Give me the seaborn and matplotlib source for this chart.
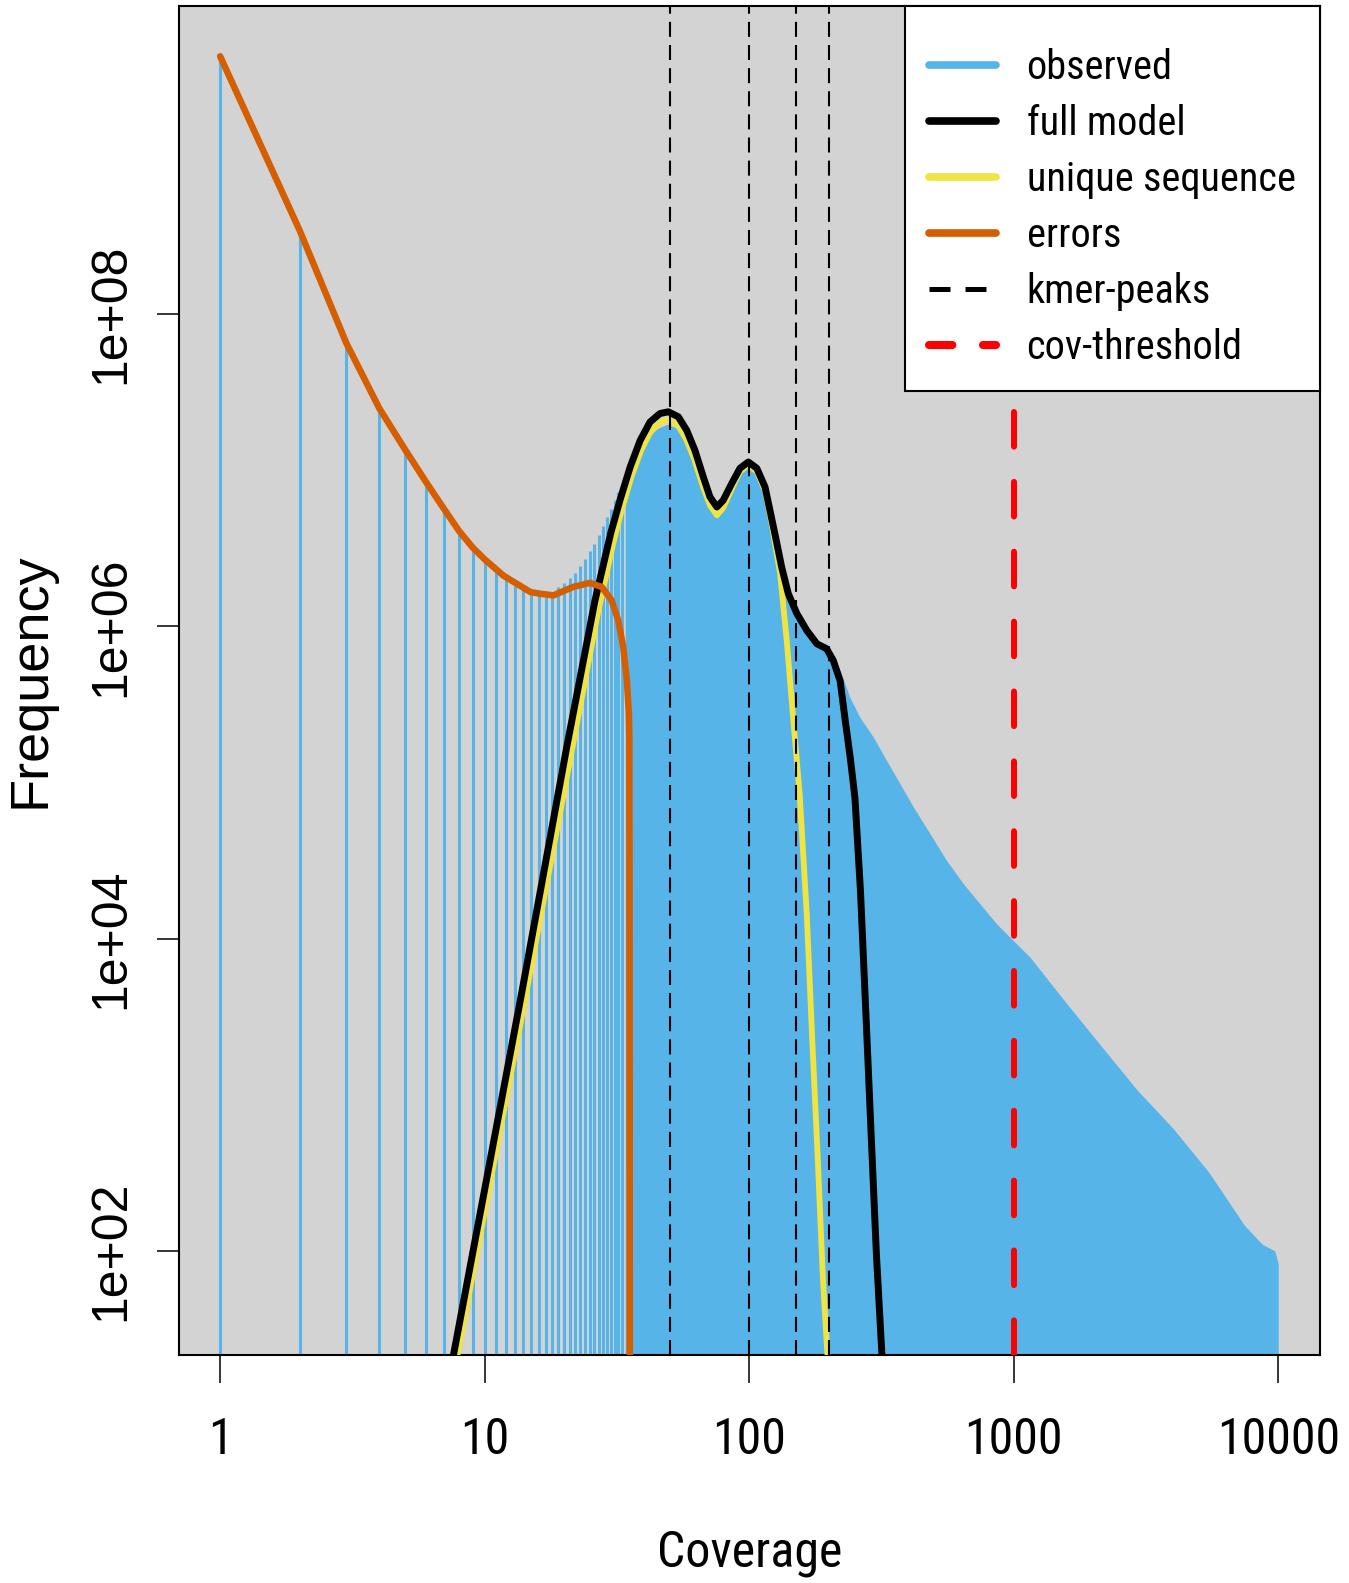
import matplotlib
matplotlib.use("Agg")
import matplotlib.pyplot as plt
from matplotlib import font_manager
from matplotlib.lines import Line2D
from matplotlib.ticker import FixedLocator, NullLocator
import seaborn as sns

# observed k-mer histogram, single bars at low coverage (1..33)
obs_cov = list(range(1, 34))
obs_freq = [4.49e9, 3.43e8, 6.53e7, 2.49e7, 1.36e7, 8.43e6, 5.70e6, 4.09e6, 3.21e6, 2.69e6,
            2.34e6, 2.04e6, 1.86e6, 1.74e6, 1.64e6, 1.62e6, 1.60e6, 1.66e6, 1.78e6, 1.90e6,
            2.04e6, 2.20e6, 2.43e6, 2.70e6, 3.02e6, 3.39e6, 3.85e6, 4.38e6, 5.01e6, 5.68e6,
            6.46e6, 7.24e6, 8.13e6]
# dense part of the histogram (bars merge), read as the outline of the bars
obs_tail_cov = [34, 36, 38, 41, 45, 49, 54, 58, 62, 67, 71, 75.5, 80, 86, 92, 99, 107, 115,
                125.6, 132.7, 140.6, 151, 165, 180, 196, 208, 221, 240, 262, 295, 331, 372,
                418, 483, 558, 646, 746, 863, 998, 1153, 1574, 2148, 2931, 4000, 5458, 7447,
                8710, 9705, 10000]
obs_tail_freq = [9.1e6, 1.1e7, 1.3e7, 1.6e7, 1.85e7, 1.97e7, 1.85e7, 1.5e7, 1.12e7, 7.6e6,
                 5.75e6, 4.95e6, 5.5e6, 7.3e6, 9.4e6, 1.05e7, 9.6e6, 7.5e6, 3.9e6, 2.45e6,
                 1.65e6, 1.25e6, 9.8e5, 8.1e5, 7.4e5, 6.46e5, 5.22e5, 3.52e5, 2.62e5, 1.95e5,
                 1.38e5, 9.8e4, 6.95e4, 4.69e4, 3.16e4, 2.24e4, 1.67e4, 1.24e4, 9.7e3, 7.6e3,
                 3.9e3, 2.04e3, 1.07e3, 6.1e2, 3.2e2, 1.46e2, 1.10e2, 1.0e2, 8.3e1]

# model curves
full_cov = [6.98, 7.62, 13.8, 20.4, 26.1, 30.0, 32.5, 35.5, 38.7, 42.2, 46.0, 49.5,
            54.0, 58.1, 62.4, 67.1, 71.1, 75.5, 79.8, 85.9, 92.3, 99.3, 106.9, 114.8, 125.6,
            132.7, 140.6, 151.4, 165.2, 180.3, 196.3, 208.0, 220.8, 230.7, 241.5, 251.2,
            263.6, 276.1, 289.1, 302.7, 317.7, 331]
full_freq = [1.0e1, 2.14e1, 4.47e3, 1.66e5, 1.45e6, 3.98e6, 6.46e6, 1.05e7, 1.55e7,
             2.04e7, 2.31e7, 2.37e7, 2.20e7, 1.80e7, 1.34e7, 9.06e6, 6.75e6, 5.82e6, 6.43e6,
             8.22e6, 1.03e7, 1.13e7, 1.03e7, 7.82e6, 3.80e6, 2.40e6, 1.62e6, 1.21e6, 9.42e5,
             7.74e5, 7.19e5, 6.05e5, 4.47e5, 2.51e5, 1.41e5, 7.94e4, 2.0e4, 3.39e3, 5.62e2,
             9.55e1, 2.14e1, 5.0]
uniq_cov = [7.24, 7.89, 14.1, 20.9, 26.6, 30.5, 32.9, 35.9, 39.1, 42.5, 46.2, 49.5, 53.7,
            57.8, 62.1, 66.8, 71.1, 75.5, 79.8, 85.9, 92.3, 99.3, 106.9, 114.8, 121.6, 130.9,
            138.7, 146.9, 155.2, 165.2, 173.0, 181.6, 190.1, 197.7, 204]
uniq_freq = [1.0e1, 2.14e1, 3.8e3, 1.32e5, 1.15e6, 3.31e6, 5.5e6, 9.1e6, 1.35e7, 1.78e7,
             2.04e7, 2.11e7, 1.95e7, 1.58e7, 1.17e7, 7.9e6, 5.96e6, 5.15e6, 5.75e6, 7.6e6,
             9.8e6, 1.08e7, 9.8e6, 7.4e6, 4.57e6, 2.19e6, 8.13e5, 2.51e5, 8.5e4, 1.41e4,
             2.34e3, 3.98e2, 6.6e1, 2.14e1, 7.9]
err_cov = [1, 2, 3, 4, 5, 6, 7, 8, 9, 10, 11.8, 14.9, 16.2, 18.2, 21.6, 25.0, 27.7, 30.2,
           32.0, 33.4, 34.5, 35.1, 35.25, 35.35, 35.4]
err_freq = [4.49e9, 3.43e8, 6.53e7, 2.49e7, 1.36e7, 8.43e6, 5.70e6, 4.09e6, 3.21e6, 2.69e6,
            2.11e6, 1.66e6, 1.62e6, 1.58e6, 1.79e6, 1.90e6, 1.79e6, 1.47e6, 1.09e6, 7.4e5,
            4.5e5, 2.75e5, 1.86e5, 1.0e3, 1.0e1]

kmer_peaks = [50, 100, 150, 200]
cov_threshold = 1000

x_ticks = [1, 10, 100, 1000, 10000]
x_labels = ['1', '10', '100', '1000', '10000']
y_ticks = [1e2, 1e4, 1e6, 1e8]
y_labels = ['1e+02', '1e+04', '1e+06', '1e+08']
legend_labels = ['observed', 'full model', 'unique sequence', 'errors', 'kmer-peaks', 'cov-threshold']

blue = '#56B4E9'
yellow = '#F0E442'
orange = '#D55E00'


def pick_font(candidates):
    have = {f.name for f in font_manager.fontManager.ttflist}
    for c in candidates:
        if c in have:
            return c
    return 'DejaVu Sans'


narrow = pick_font(['Liberation Sans Narrow', 'Arial Narrow', 'Roboto Condensed',
                    'Archivo Narrow', 'PT Sans Narrow', 'Sofia Sans Semi Condensed'])
regular = pick_font(['Liberation Sans', 'Arimo', 'Roboto'])

sns.set_theme(style='ticks')
plt.rcParams['font.family'] = [narrow, 'DejaVu Sans']

fig = plt.figure(figsize=(13.49, 15.83), dpi=100)
ax = fig.add_axes([0.1325, 0.1440, 0.8458, 0.8522])
ax.set_facecolor('#D3D3D3')
ax.set_xscale('log')
ax.set_yscale('log')
ax.set_xlim(0.6976, 14355)
ax.set_ylim(21.5, 9.42e9)

# observed histogram
ax.vlines(obs_cov, 1, obs_freq, color=blue, lw=2.2, zorder=2)
ax.fill_between(obs_tail_cov, 1, obs_tail_freq, color=blue, lw=0, zorder=2)

# models
sns.lineplot(x=uniq_cov, y=uniq_freq, ax=ax, color=yellow, lw=4.2, sort=False,
             estimator=None, zorder=3, solid_capstyle='round', solid_joinstyle='round')
sns.lineplot(x=full_cov, y=full_freq, ax=ax, color='black', lw=5.0, sort=False,
             estimator=None, zorder=4, solid_capstyle='round', solid_joinstyle='round')
sns.lineplot(x=err_cov, y=err_freq, ax=ax, color=orange, lw=4.7, sort=False,
             estimator=None, zorder=5, solid_capstyle='round', solid_joinstyle='round')

for p in kmer_peaks:
    ax.axvline(p, color='black', lw=1.5, ls=(0, (7.2, 3.9)), zorder=6)
ax.axvline(cov_threshold, color='red', lw=4.3, ls=(0, (5.8, 5.9)),
           dash_capstyle='round', zorder=6)

ax.xaxis.set_major_locator(FixedLocator(x_ticks))
ax.xaxis.set_minor_locator(NullLocator())
ax.set_xticklabels(x_labels, fontsize=36)
ax.yaxis.set_major_locator(FixedLocator(y_ticks))
ax.yaxis.set_minor_locator(NullLocator())
ax.set_yticklabels(y_labels, fontsize=36, rotation=90, va='center', family=regular)
ax.tick_params(axis='x', length=20, width=1.1, pad=24, colors='black')
ax.tick_params(axis='y', length=16, width=1.1, pad=16, colors='black')
for s in ax.spines.values():
    s.set_color('black')
    s.set_linewidth(1.5)

ax.set_xlabel('Coverage', fontsize=36, va='center', color='black')
ax.xaxis.set_label_coords(0.5, -0.147)
ax.set_ylabel('Frequency', fontsize=39, va='center', family=regular, color='black')
ax.yaxis.set_label_coords(-0.130, 0.5)

handles = [
    Line2D([], [], color=blue, lw=5.5, solid_capstyle='round'),
    Line2D([], [], color='black', lw=5.5, solid_capstyle='round'),
    Line2D([], [], color=yellow, lw=5.5, solid_capstyle='round'),
    Line2D([], [], color=orange, lw=5.5, solid_capstyle='round'),
    Line2D([], [], color='black', lw=3.6, ls=(0, (4.2, 3.0))),
    Line2D([], [], color='red', lw=5.8, ls=(0, (2.9, 3.8)), dash_capstyle='round'),
]
# a blank, tiny title only adds some room above the first row
leg = ax.legend(handles, legend_labels, loc='upper right', fontsize=29, frameon=True,
                fancybox=False, framealpha=1, borderaxespad=0, handlelength=1.65,
                handletextpad=0.76, labelspacing=0.42, borderpad=0.6,
                title=' ', title_fontsize=1)
leg.get_frame().set_edgecolor('black')
leg.get_frame().set_linewidth(1.5)
leg.set_zorder(10)
for t in leg.get_texts():
    t.set_color('black')

fig.savefig('out.png', dpi=100)
